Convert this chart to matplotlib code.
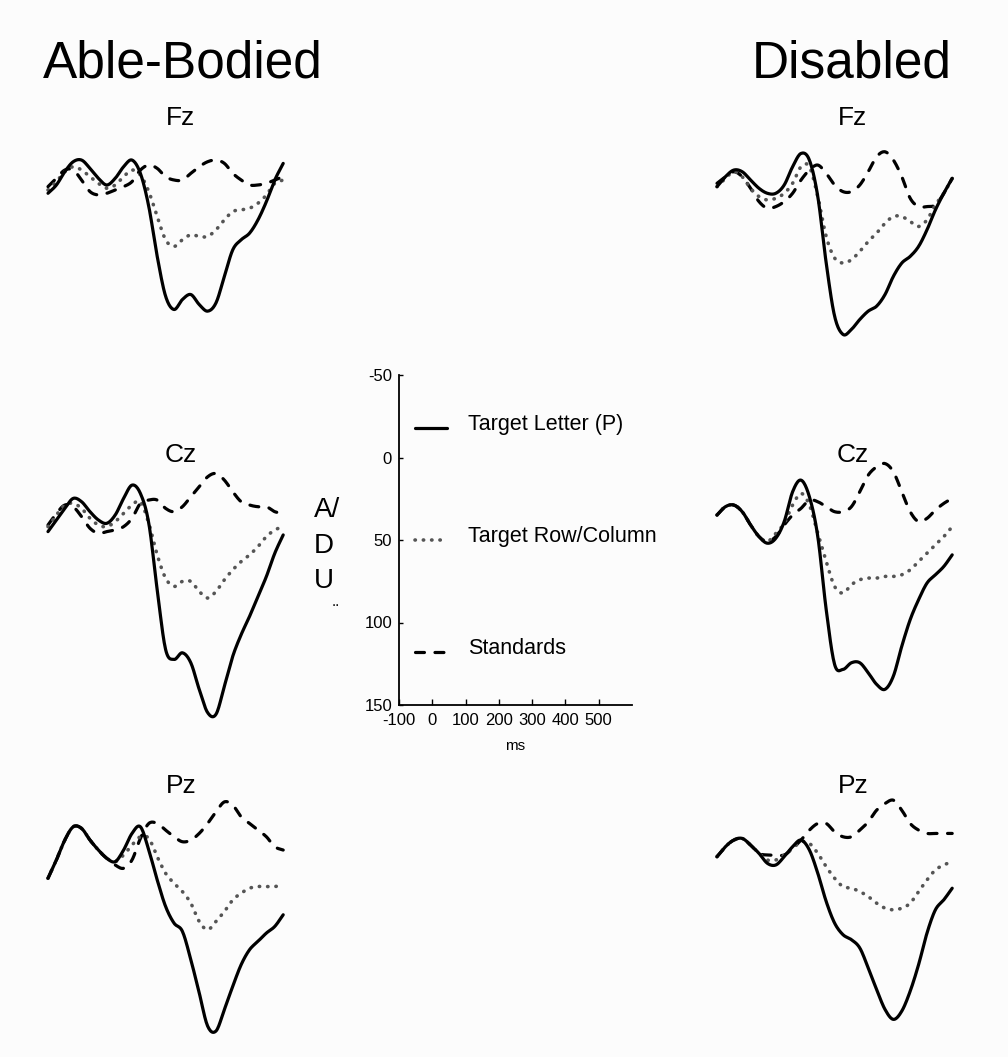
import numpy as np
import matplotlib
matplotlib.use("Agg")
import matplotlib.pyplot as plt

plt.rcParams['font.family'] = ['Liberation Sans', 'DejaVu Sans']

# Sampling grid (ms after stimulus onset)
ms = list(range(-100, 601, 25))

# Grand-average amplitudes (A/D units, positive plotted downward)
fz_ab_target = [8, 3, -5, -11, -12, -7, -1, 3, -1, -8, -12, -4, 16, 46, 70, 78, 72, 69, 75, 79, 74, 58, 42, 36, 32, 24, 13, 0, -10]
fz_ab_row = [6, 1, -5, -8, -6, -2, 2, 5, 3, -2, -6, -3, 7, 22, 36, 40, 36, 33, 34, 34, 30, 24, 19, 18, 17, 14, 9, 2, 0]
fz_ab_std = [4, -1, -6, -6, 0, 7, 9, 8, 6, 4, 1, -6, -9, -7, -2, 0, 0, -4, -8, -11, -12, -10, -4, 0, 3, 3, 2, 0, -2]

fz_dis_target = [1, -5, -9, -8, -3, 2, 5, 5, 0, -11, -19, -15, 7, 47, 79, 90, 87, 81, 76, 73, 66, 55, 47, 43, 37, 27, 15, 5, -4]
fz_dis_row = [1, -4, -8, -5, 2, 7, 9, 8, 5, -1, -11, -11, 7, 31, 44, 47, 45, 40, 34, 29, 23, 19, 19, 22, 25, 21, 12, 5, -4]
fz_dis_std = [-1, -5, -8, -5, 2, 10, 14, 13, 10, 5, -3, -9, -12, -7, 0, 4, 4, 0, -8, -17, -20, -15, -5, 8, 13, 13, 12, 5, -4]

cz_ab_target = [7, 0, -7, -13, -11, -5, 0, 2, -3, -13, -21, -16, 2, 42, 78, 84, 80, 86, 102, 116, 117, 100, 82, 69, 58, 46, 34, 20, 9]
cz_ab_row = [4, -3, -9, -10, -7, -1, 3, 4, 1, -4, -9, -11, 2, 21, 35, 40, 37, 37, 43, 47, 43, 36, 30, 25, 21, 16, 10, 6, 4]
cz_ab_std = [3, -4, -9, -8, -2, 5, 8, 7, 6, 4, -1, -10, -12, -12, -7, -5, -8, -14, -20, -26, -28, -24, -17, -11, -9, -8, -8, -5, -4]

cz_dis_target = [-3, -8, -9, -5, 3, 10, 14, 11, 1, -17, -24, -14, 10, 54, 87, 90, 86, 86, 92, 99, 102, 94, 76, 60, 48, 38, 33, 28, 21]
cz_dis_row = [-3, -8, -9, -5, 3, 10, 13, 8, 2, -9, -16, -9, 8, 25, 40, 44, 39, 36, 35, 35, 34, 34, 33, 30, 25, 20, 15, 10, 4]
cz_dis_std = [-3, -8, -9, -5, 3, 10, 13, 10, 3, -3, -7, -12, -11, -8, -5, -5, -8, -17, -27, -32, -34, -29, -17, -5, 1, -1, -6, -10, -13]

pz_ab_target = [11, 0, -12, -20, -19, -12, -6, -1, 1, -6, -16, -20, -6, 12, 28, 38, 43, 60, 80, 100, 103, 90, 76, 63, 54, 49, 44, 40, 33]
pz_ab_row = [11, 0, -12, -20, -19, -12, -6, -1, 1, -3, -9, -14, -13, -2, 8, 14, 19, 26, 37, 42, 37, 31, 24, 20, 17, 16, 16, 16, 15]
pz_ab_std = [11, 0, -12, -20, -19, -12, -6, -1, 3, 5, 0, -13, -22, -22, -18, -14, -11, -12, -16, -22, -29, -35, -33, -26, -22, -18, -14, -8, -6]

pz_dis_target = [-2, -8, -12, -13, -9, -4, 2, 3, -2, -8, -12, -6, 8, 25, 38, 45, 48, 53, 65, 78, 90, 96, 91, 79, 63, 44, 30, 24, 17]
pz_dis_row = [-2, -8, -12, -13, -9, -4, 0, 0, -3, -7, -11, -10, -4, 4, 11, 16, 17, 19, 22, 26, 29, 30, 29, 26, 19, 12, 6, 3, 1]
pz_dis_std = [-2, -8, -12, -13, -9, -4, -3, -3, -3, -7, -12, -18, -22, -22, -17, -14, -14, -18, -23, -30, -34, -36, -30, -22, -18, -16, -16, -16, -16]

group_titles = ["Able-Bodied", "Disabled"]
sites = ["Fz", "Cz", "Pz"]
legend_labels = ["Target Letter (P)", "Target Row/Column", "Standards"]
y_ticks = [-50, 0, 50, 100, 150]
x_ticks = [-100, 0, 100, 200, 300, 400, 500]

W, H = 1008, 1057
PX_PER_MS = 0.336
PX_PER_UNIT = 1.66

fig = plt.figure(figsize=(W / 100, H / 100), dpi=100, facecolor='#fcfcfc')

STYLES = [
    dict(color='black', lw=2.3, solid_capstyle='round', solid_joinstyle='round'),
    dict(color='#555555', lw=2.6, linestyle=(0, (0.1, 2.2)), dash_capstyle='round'),
    dict(color='black', lw=2.3, linestyle=(0, (2.8, 3.3)), dash_capstyle='round'),
]


def smooth(t, v, n=12):
    """Catmull-Rom curve through the sampled points (drawing only)."""
    t = np.asarray(t, float)
    v = np.asarray(v, float)
    p = np.concatenate([[2 * v[0] - v[1]], v, [2 * v[-1] - v[-2]]])
    s = np.linspace(0, 1, n, endpoint=False)[:, None]
    p0, p1, p2, p3 = p[:-3], p[1:-2], p[2:-1], p[3:]
    c = 0.5 * (2 * p1 + (-p0 + p2) * s + (2 * p0 - 5 * p1 + 4 * p2 - p3) * s ** 2
               + (-p0 + 3 * p1 - 3 * p2 + p3) * s ** 3)
    tt = t[:-1] + (t[1:] - t[:-1]) * s
    return np.append(tt.T.ravel(), t[-1]), np.append(c.T.ravel(), v[-1])


def rect_px(left, top, right, bottom):
    return [left / W, 1 - bottom / H, (right - left) / W, (bottom - top) / H]


def panel(x0, y0, series):
    lo, hi = -60, 130
    ax = fig.add_axes(rect_px(x0, y0 + lo * PX_PER_UNIT,
                              x0 + 700 * PX_PER_MS, y0 + hi * PX_PER_UNIT))
    ax.set_xlim(-100, 600)
    ax.set_ylim(hi, lo)
    ax.axis('off')
    ax.patch.set_alpha(0)
    for vals, st in reversed(list(zip(series, STYLES))):
        tx, ty = smooth(ms, vals)
        ax.plot(tx, ty, clip_on=False, **st)
    return ax


panel(48, 180, [fz_ab_target, fz_ab_row, fz_ab_std])
panel(717, 185, [fz_dis_target, fz_dis_row, fz_dis_std])
panel(48, 520, [cz_ab_target, cz_ab_row, cz_ab_std])
panel(717, 520, [cz_dis_target, cz_dis_row, cz_dis_std])
panel(48, 860, [pz_ab_target, pz_ab_row, pz_ab_std])
panel(717, 860, [pz_dis_target, pz_dis_row, pz_dis_std])

# Group headings and electrode names
fig.text(43 / W, 1 - 78 / H, group_titles[0], fontsize=37, va='baseline', ha='left')
fig.text(952 / W, 1 - 78 / H, group_titles[1], fontsize=37, va='baseline', ha='right')
for name, yb in zip(sites, [125, 462, 793]):
    fig.text(181 / W, 1 - yb / H, name, fontsize=19, va='baseline', ha='center')
    fig.text(853 / W, 1 - yb / H, name, fontsize=19, va='baseline', ha='center')

# Calibration axes with the legend
cal = fig.add_axes(rect_px(399, 375, 632, 705))
cal.set_xlim(-100, 600)
cal.set_ylim(150, -50)
cal.patch.set_alpha(0)
for side in ('top', 'right'):
    cal.spines[side].set_visible(False)
for side in ('left', 'bottom'):
    cal.spines[side].set_linewidth(1.3)
cal.set_yticks(y_ticks)
cal.set_yticklabels([str(v) for v in y_ticks])
cal.set_xticks(x_ticks)
cal.set_xticklabels([str(v) for v in x_ticks])
cal.tick_params(axis='y', direction='in', length=3, width=1, pad=5, labelsize=12)
cal.tick_params(axis='x', direction='in', length=4, width=1, pad=6, labelsize=12)

legend_y = [-17.6, 50.3, 118]
for lab, yv, st in zip(legend_labels, legend_y, STYLES):
    cal.plot([-52, 44], [yv, yv], clip_on=False, **st)
    cal.text(107, yv + 1, lab, fontsize=15.5, va='baseline', ha='left')

fig.text(515 / W, 1 - 750 / H, "ms", fontsize=11, ha='center', va='baseline')
for s, yb in zip(["A/", "D", "U"], [517, 553, 588]):
    fig.text(314 / W, 1 - yb / H, s, fontsize=20, ha='left', va='baseline')
fig.text(336 / W, 1 - 606 / H, "..", fontsize=11, ha='center', va='baseline')

fig.savefig("out.png", dpi=100, facecolor=fig.get_facecolor())
